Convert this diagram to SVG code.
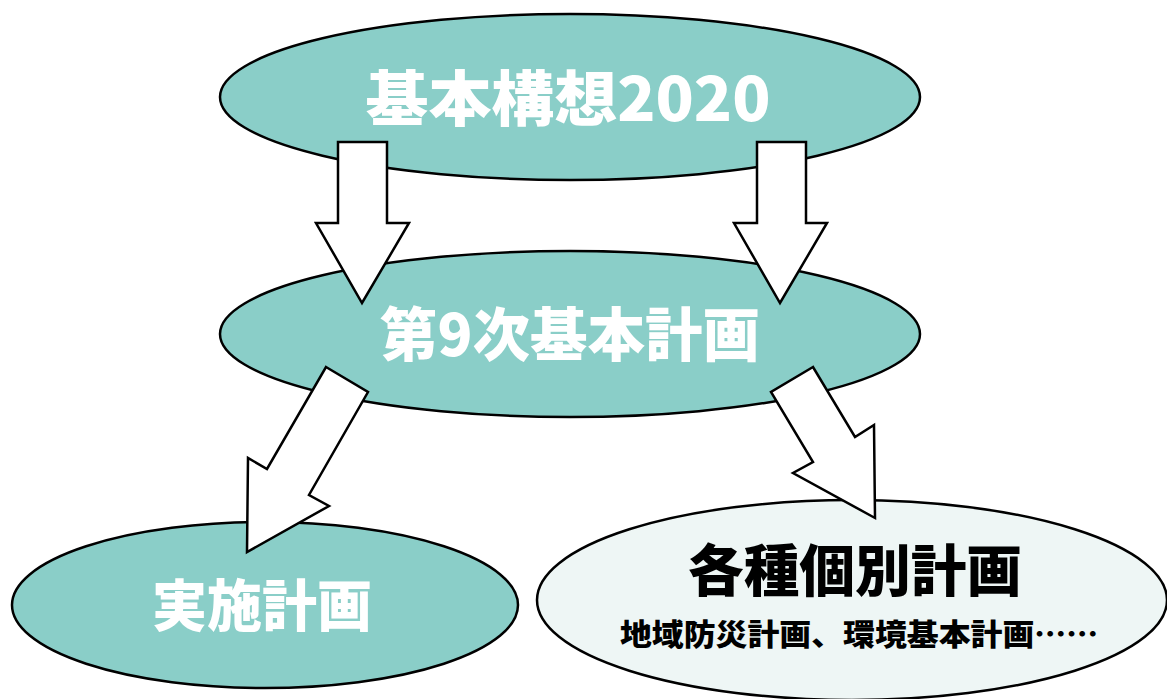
<svg xmlns="http://www.w3.org/2000/svg" width="1167" height="699" viewBox="0 0 1167 699">
<style>
.teal{fill:#8acec8;stroke:#000;stroke-width:2.5}
.pale{fill:#eef6f5;stroke:#000;stroke-width:2.5}
.arrow{fill:#fff;stroke:#000;stroke-width:2.5;stroke-linejoin:miter}
.wt{fill:#fff;font-family:"Noto Sans CJK JP","Noto Sans",sans-serif;font-weight:900;text-anchor:middle}
.bt{fill:#000;font-family:"Noto Sans CJK JP","Noto Sans",sans-serif;font-weight:900;text-anchor:middle}
</style>
<rect width="1167" height="699" fill="#fff"/>
<g id="node-kihonkoso">
<ellipse class="teal" cx="570" cy="97" rx="350" ry="83"/>
<text class="wt" x="568" y="121" font-size="60" textLength="405" lengthAdjust="spacingAndGlyphs">基本構想2020</text>
</g>
<g id="node-dai9ji">
<ellipse class="teal" cx="570" cy="334" rx="350" ry="83"/>
<text class="wt" x="570" y="356" font-size="58" textLength="380" lengthAdjust="spacingAndGlyphs">第9次基本計画</text>
</g>
<g id="node-jisshi">
<ellipse class="teal" cx="265" cy="605" rx="253" ry="83"/>
<text class="wt" x="262" y="626" font-size="56" textLength="220" lengthAdjust="spacingAndGlyphs">実施計画</text>
</g>
<g id="node-kobetsu">
<ellipse class="pale" cx="852" cy="600" rx="315" ry="100"/>
<text class="bt" x="855" y="591" font-size="56" textLength="334" lengthAdjust="spacingAndGlyphs">各種個別計画</text>
<text class="bt" x="859" y="645" font-size="30" font-weight="600" textLength="478" lengthAdjust="spacingAndGlyphs">地域防災計画、環境基本計画……</text>
</g>
<g id="connectors">
<polygon class="arrow" points="338,142 387,142 387,223 409,223 362,303 316,223 338,223"/>
<polygon class="arrow" points="757,142 806,142 806,223 827,223 780,303 734,223 757,223"/>
<polygon class="arrow" points="326,367 368,392 309,495 329,506 247,552 248,458 267,469"/>
<polygon class="arrow" points="813,367 771,392 813,462 793,473 875,518 874,425 855,437"/>
</g>
</svg>
